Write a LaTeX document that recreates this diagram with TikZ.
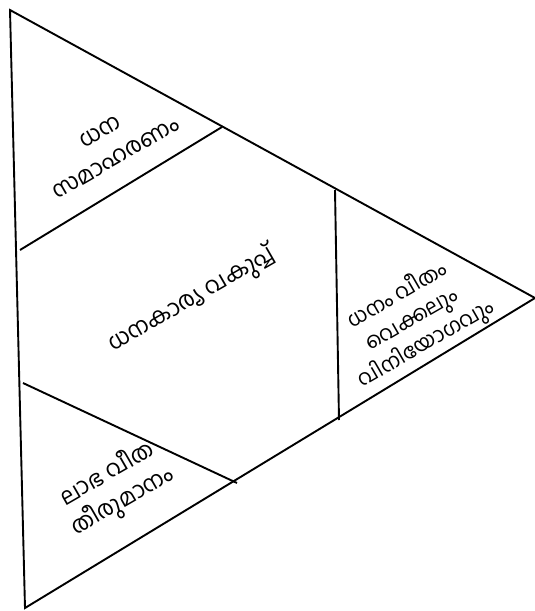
\documentclass[tikz,border=0pt]{standalone}
\usepackage{fontspec}
\newfontfamily\malfont[Script=Malayalam]{Hind Kochi}
\usetikzlibrary{calc}
\usetikzlibrary{positioning}

\tikzset{
  section/.style={font=\malfont\fontsize{23}{31}\selectfont, align=center, rotate=30, inner sep=0pt},
  small section/.style={section, font=\malfont\fontsize{21}{28}\selectfont},
}

\begin{document}
\begin{tikzpicture}[x=1pt, y=-1pt, line width=1.9pt]
    % We start by placing the corners
    \useasboundingbox (0,0) rectangle (535,611);
    \coordinate (top) at (10,10);
    \coordinate (bottom) at (25,608);
    \coordinate (tip) at (535,298);

    \coordinate (cutA) at (20,250);
    \coordinate (cutB) at (222,127);
    \coordinate (cutC) at (23,383);
    \coordinate (cutD) at (237,483);
    \coordinate (cutE) at (335,190);
    \coordinate (cutF) at (339,420);

\draw (top) -- (bottom) -- (tip) -- cycle;
\draw (cutA) -- (cutB);
\draw (cutC) -- (cutD);
\draw (cutE) -- (cutF);

    % the texts
\node[section] (collect) at (108,145) {ധന\\സമാഹരണം};
\node[section] (dept) at (192,300) {ധനകാര്യ വകുപ്പ്};
\node[small section] (share) at (412,320) {ധനം വീതം\\വെക്കലും\\വിനിയോഗവും};
\node[section] (profit) at (115,488) {ലാഭ വീത\\തീരുമാനം};

\end{tikzpicture}
\end{document}
